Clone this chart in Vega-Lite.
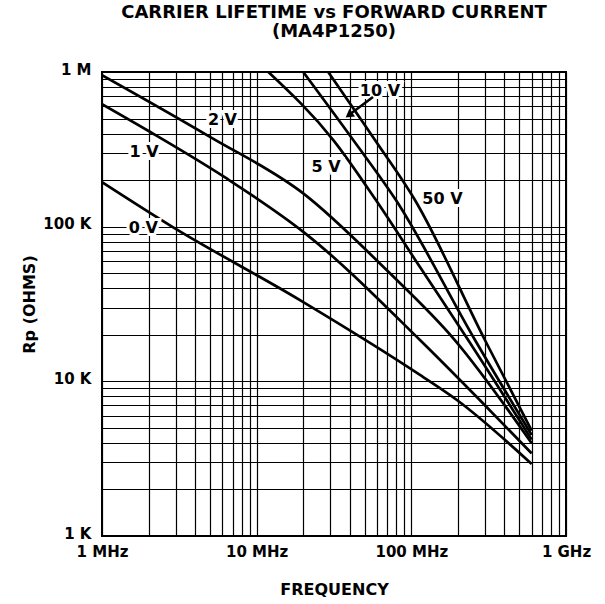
{
  "$schema": "https://vega.github.io/schema/vega-lite/v6.json",
  "width": 464,
  "height": 464,
  "autosize": {"type": "none"},
  "padding": {"left": 102, "top": 72, "right": 39, "bottom": 68},
  "background": "white",
  "config": {
    "view": {"stroke": "black", "strokeWidth": 2},
    "font": "DejaVu Sans"
  },
  "title": {
    "text": ["CARRIER LIFETIME vs FORWARD CURRENT", "(MA4P1250)"],
    "font": "DejaVu Sans",
    "fontSize": 18,
    "fontWeight": "bold",
    "color": "black",
    "anchor": "middle",
    "offset": 21,
    "lineHeight": 19
  },
  "datasets": {
    "curves": [
      {"V": "0 V", "f": 1, "R": 194000},
      {"V": "0 V", "f": 2.75, "R": 102000},
      {"V": "0 V", "f": 19.05, "R": 33500},
      {"V": "0 V", "f": 113.7, "R": 11000},
      {"V": "0 V", "f": 196, "R": 7600},
      {"V": "0 V", "f": 600, "R": 2920},
      {"V": "1 V", "f": 1, "R": 620000},
      {"V": "1 V", "f": 2.04, "R": 411000},
      {"V": "1 V", "f": 6.4, "R": 205000},
      {"V": "1 V", "f": 20.5, "R": 90900},
      {"V": "1 V", "f": 113.7, "R": 18500},
      {"V": "1 V", "f": 277, "R": 7570},
      {"V": "1 V", "f": 600, "R": 3420},
      {"V": "2 V", "f": 1, "R": 955000},
      {"V": "2 V", "f": 4.99, "R": 381000},
      {"V": "2 V", "f": 20, "R": 164000},
      {"V": "2 V", "f": 69.2, "R": 52400},
      {"V": "2 V", "f": 191, "R": 18500},
      {"V": "2 V", "f": 600, "R": 3980},
      {"V": "5 V", "f": 11.9, "R": 1000000},
      {"V": "5 V", "f": 31.3, "R": 363000},
      {"V": "5 V", "f": 59, "R": 148600},
      {"V": "5 V", "f": 113.7, "R": 54800},
      {"V": "5 V", "f": 233, "R": 18500},
      {"V": "5 V", "f": 600, "R": 4200},
      {"V": "10 V", "f": 20, "R": 1000000},
      {"V": "10 V", "f": 42.1, "R": 363000},
      {"V": "10 V", "f": 79.5, "R": 148600},
      {"V": "10 V", "f": 258, "R": 18500},
      {"V": "10 V", "f": 600, "R": 4500},
      {"V": "50 V", "f": 29, "R": 1000000},
      {"V": "50 V", "f": 58.2, "R": 363000},
      {"V": "50 V", "f": 105.5, "R": 148600},
      {"V": "50 V", "f": 299, "R": 18500},
      {"V": "50 V", "f": 600, "R": 4800}
    ],
    "labels": [
      {"text": "0 V", "f": 1.85, "R": 97500},
      {"text": "1 V", "f": 1.87, "R": 305000},
      {"text": "2 V", "f": 6.01, "R": 489000},
      {"text": "5 V", "f": 28.1, "R": 244000},
      {"text": "10 V", "f": 62.7, "R": 753000},
      {"text": "50 V", "f": 159, "R": 151000}
    ],
    "arrow": [
      {"f": 56.5, "R": 689000, "f2": 39.5, "R2": 526600}
    ]
  },
  "encoding": {
    "x": {
      "field": "f",
      "type": "quantitative",
      "scale": {"type": "log", "domain": [1, 1000], "nice": false},
      "axis": {
        "values": [1, 2, 3, 4, 5, 6, 7, 8, 9, 10, 20, 30, 40, 50, 60, 70, 80, 90, 100, 200, 300, 400, 500, 600, 700, 800, 900, 1000],
        "labelExpr": "datum.value == 1 ? '1 MHz' : datum.value == 10 ? '10 MHz' : datum.value == 100 ? '100 MHz' : datum.value == 1000 ? '1 GHz' : ''",
        "grid": true,
        "gridColor": "black",
        "gridOpacity": 1,
        "gridWidth": 1.2,
        "ticks": false,
        "domain": false,
        "labelFont": "DejaVu Sans",
        "labelFontSize": 15,
        "labelFontWeight": "bold",
        "labelColor": "black",
        "labelPadding": 8,
        "labelOverlap": false,
        "labelFlush": false,
        "title": "FREQUENCY",
        "titleFont": "DejaVu Sans",
        "titleFontSize": 16,
        "titleFontWeight": "bold",
        "titleColor": "black",
        "titlePadding": 22
      }
    },
    "y": {
      "field": "R",
      "type": "quantitative",
      "scale": {"type": "log", "domain": [1000, 1000000], "nice": false},
      "axis": {
        "values": [1000, 2000, 3000, 4000, 5000, 6000, 7000, 8000, 9000, 10000, 20000, 30000, 40000, 50000, 60000, 70000, 80000, 90000, 100000, 200000, 300000, 400000, 500000, 600000, 700000, 800000, 900000, 1000000],
        "labelExpr": "datum.value == 1000 ? '1 K' : datum.value == 10000 ? '10 K' : datum.value == 100000 ? '100 K' : datum.value == 1000000 ? '1 M' : ''",
        "grid": true,
        "gridColor": "black",
        "gridOpacity": 1,
        "gridWidth": 1.2,
        "ticks": false,
        "domain": false,
        "labelFont": "DejaVu Sans",
        "labelFontSize": 15,
        "labelFontWeight": "bold",
        "labelColor": "black",
        "labelPadding": 11,
        "labelOffset": -3,
        "labelOverlap": false,
        "labelFlush": false,
        "title": "Rp (OHMS)",
        "titleFont": "DejaVu Sans",
        "titleFontSize": 16,
        "titleFontWeight": "bold",
        "titleColor": "black",
        "titlePadding": 5
      }
    }
  },
  "layer": [
    {
      "data": {"name": "curves"},
      "mark": {"type": "line", "color": "black", "strokeWidth": 2.7, "interpolate": "monotone", "clip": true},
      "encoding": {"detail": {"field": "V"}}
    },
    {
      "data": {"name": "labels"},
      "mark": {"type": "text", "font": "DejaVu Sans", "fontSize": 16, "fontWeight": "bold", "color": "white", "stroke": "white", "strokeWidth": 6, "align": "center", "baseline": "middle"},
      "encoding": {"text": {"field": "text"}}
    },
    {
      "data": {"name": "labels"},
      "mark": {"type": "text", "font": "DejaVu Sans", "fontSize": 16, "fontWeight": "bold", "color": "black", "align": "center", "baseline": "middle"},
      "encoding": {"text": {"field": "text"}}
    },
    {
      "data": {"name": "arrow"},
      "mark": {"type": "rule", "color": "black", "strokeWidth": 2.5},
      "encoding": {"x2": {"field": "f2"}, "y2": {"field": "R2"}}
    },
    {
      "data": {"name": "arrow"},
      "mark": {"type": "point", "shape": "triangle-up", "filled": true, "color": "black", "opacity": 1, "size": 90, "angle": 233},
      "encoding": {"x": {"field": "f2", "type": "quantitative"}, "y": {"field": "R2", "type": "quantitative"}}
    }
  ]
}
